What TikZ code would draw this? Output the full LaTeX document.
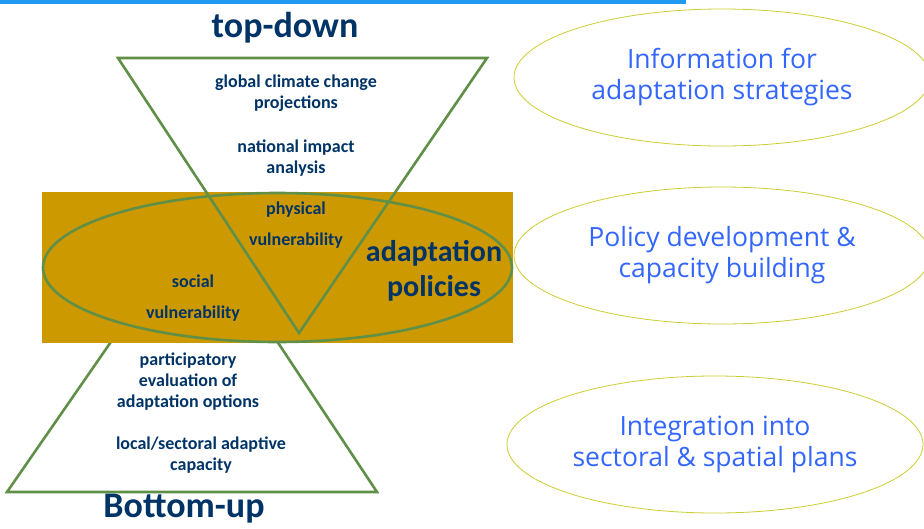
\documentclass[tikz,border=0pt]{standalone}
\usepackage{fontspec}
\setmainfont{Carlito}
\newfontfamily\notefont{Open Sans}
\usetikzlibrary{shapes.geometric, positioning}
\definecolor{darkblue}{RGB}{0,51,102}
\definecolor{gold}{RGB}{204,153,0}
\definecolor{olive}{RGB}{96,143,72}
\definecolor{notecolor}{RGB}{51,102,255}
\definecolor{rimcolor}{RGB}{204,204,51}
\definecolor{barblue}{RGB}{30,155,240}

\begin{document}
\begin{tikzpicture}[x=1pt, y=-1pt,
   tri/.style={draw=olive, line width=2.6pt, line join=miter},
   label/.style={text=darkblue, font=\bfseries\fontsize{18}{21}\selectfont, align=center},
   title/.style={text=darkblue, font=\bfseries\fontsize{36}{40}\selectfont},
   note/.style={ellipse, draw=rimcolor, line width=0.8pt, minimum width=416pt, minimum height=137pt,
                text=notecolor, font=\notefont\fontsize{26.5}{31}\selectfont, align=center}]
   \useasboundingbox (0,0) rectangle (924,528);
   \clip (0,0) rectangle (924,528);
   \fill[barblue] (0,0) rectangle (686,4);

   \coordinate (tl) at (118,58);
   \coordinate (tr) at (487,58);
   \coordinate (ttip) at (299,333);
   \coordinate (bl) at (7,492);
   \coordinate (br) at (377,492);
   \coordinate (btip) at (196,219);

   \draw[tri] (bl) -- (br) -- (btip) -- cycle;
   \node[fill=gold, minimum width=471pt, minimum height=151pt, inner sep=0pt] (band) at (277.5,267.5) {};
   \draw[tri] (tl) -- (tr) -- (ttip) -- cycle;
   \node[ellipse, draw=olive, line width=2.6pt, minimum width=469pt, minimum height=149pt] (policies) at (band.center) {};

   \node[title] (topdown) at (285,28) {top-down};
   \node[title] (bottomup) at (184,509) {Bottom-up};

   \node[label] (global) at (296,93.5) {global climate change\\projections};
   \node[label] (national) at (296,158.5) {national impact\\analysis};
   \node[label] (physical) at (296,225.5) {physical\\[10pt]vulnerability};
   \node[label] (social) at (193,298.5) {social\\[10pt]vulnerability};
   \node[label, font=\bfseries\fontsize{30}{35}\selectfont] (adapt) at (434,270.5) {adaptation\\policies};
   \node[label] (particip) at (188,381.5) {participatory\\evaluation of\\adaptation options};
   \node[label] (local) at (201,455.5) {local/sectoral adaptive\\capacity};

   \node[note] (info) at (722,77.5) {Information for\\adaptation strategies};
   \node[note] (policy) at (722,255.5) {Policy development \&\\capacity building};
   \node[note] (plans) at (715,444.5) {Integration into\\sectoral \& spatial plans};
\end{tikzpicture}
\end{document}
